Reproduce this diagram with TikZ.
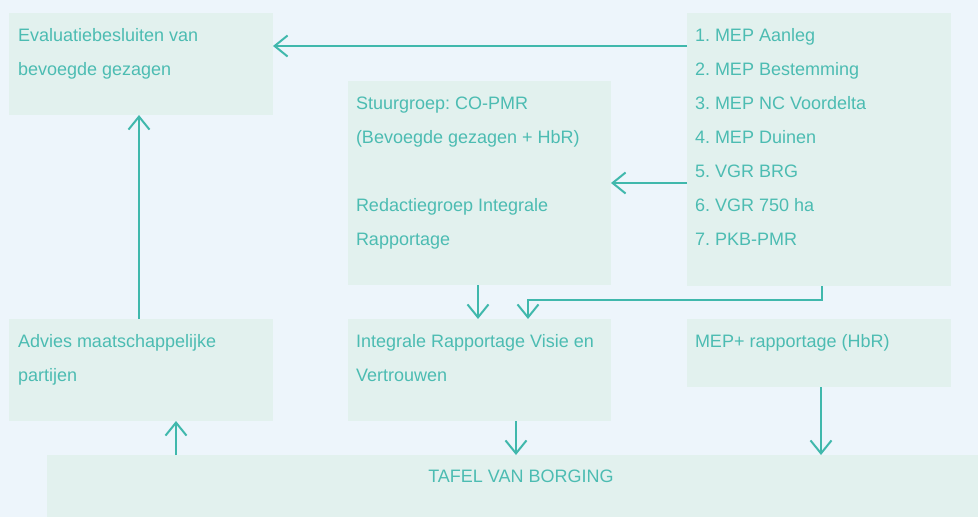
\documentclass[tikz,border=0pt]{standalone}
\usepackage{fontspec}
\setmainfont{Liberation Sans}
\frenchspacing
\usetikzlibrary{arrows.meta,calc}
\definecolor{bgc}{HTML}{EDF5FB}
\definecolor{boxc}{HTML}{E2F1EE}
\definecolor{tealc}{HTML}{40B8AC}
\definecolor{txtc}{HTML}{4CBCB2}
\tikzset{
  box/.style={fill=boxc, draw=none, inner sep=0pt, outer sep=0pt, anchor=north west},
  txt/.style={text=txtc, inner sep=0pt, outer sep=0pt, anchor=base west, font=\fontsize{18}{34}\selectfont},
  arr/.style={draw=tealc, line width=2pt, -{Straight Barb[length=13pt,width=21pt,line width=2pt]}}
}
\newcommand{\lines}[1]{\begin{tabular}[t]{@{}l@{}}#1\end{tabular}}
\begin{document}
\begin{tikzpicture}[x=1pt,y=-1pt]
\fill[bgc] (0,0) rectangle (978,517);
\useasboundingbox (0,0) rectangle (978,517);
% boxes
\node[box, minimum width=264pt, minimum height=102pt] (eval) at (9,13) {};
\node[box, minimum width=263pt, minimum height=204pt] (stuur) at (348,81) {};
\node[box, minimum width=264pt, minimum height=273pt] (list) at (687,13) {};
\node[box, minimum width=264pt, minimum height=102pt] (advies) at (9,319) {};
\node[box, minimum width=263pt, minimum height=102pt] (integ) at (348,319) {};
\node[box, minimum width=264pt, minimum height=68pt] (mep) at (687,319) {};
\node[box, minimum width=931pt, minimum height=62pt] (tafel) at (47,455) {};
% texts
\node[txt] (evalt) at ($(eval.north west)+(9,28)$) {\lines{Evaluatiebesluiten van\\bevoegde gezagen}};
\node[txt] (stuurt) at ($(stuur.north west)+(8,28)$) {\lines{Stuurgroep: CO-PMR\\(Bevoegde gezagen + HbR)\\ \\Redactiegroep Integrale\\Rapportage}};
\node[txt] (listt) at ($(list.north west)+(8,28)$) {\lines{1. MEP Aanleg\\2. MEP Bestemming\\3. MEP NC Voordelta\\4. MEP Duinen\\5. VGR BRG\\6. VGR 750 ha\\7. PKB-PMR}};
\node[txt] (adviest) at ($(advies.north west)+(9,28)$) {\lines{Advies maatschappelijke\\partijen}};
\node[txt] (integt) at ($(integ.north west)+(8,28)$) {\lines{Integrale Rapportage Visie en\\Vertrouwen}};
\node[txt] (mept) at ($(mep.north west)+(8,28)$) {\lines{MEP+ rapportage (HbR)}};
\node[txt, anchor=base] (tafelt) at (521,482) {TAFEL VAN BORGING};
% connectors
\coordinate (l1) at ($(list.north west)+(0,33)$);
\draw[arr] (l1) -- (l1 -| eval.east);
\coordinate (l2) at ($(list.north west)+(0,170)$);
\draw[arr] (l2) -- (l2 -| stuur.east);
\coordinate (a1) at ($(advies.north west)+(130,0)$);
\draw[arr] (a1) -- (a1 |- eval.south);
\coordinate (s1) at ($(stuur.south west)+(130,0)$);
\draw[arr] (s1) -- (s1 |- integ.north);
\coordinate (ls) at ($(list.south west)+(135,0)$);
\coordinate (ie) at ($(integ.north west)+(180,0)$);
\draw[arr] (ls) -- ++(0,14) -| (ie);
\coordinate (i1) at ($(integ.south west)+(168,0)$);
\draw[arr] (i1) -- (i1 |- tafel.north);
\coordinate (t1) at ($(tafel.north west)+(129,0)$);
\draw[arr] (t1) -- (t1 |- advies.south);
\coordinate (m1) at ($(mep.south west)+(134,0)$);
\draw[arr] (m1) -- (m1 |- tafel.north);
\end{tikzpicture}
\end{document}
